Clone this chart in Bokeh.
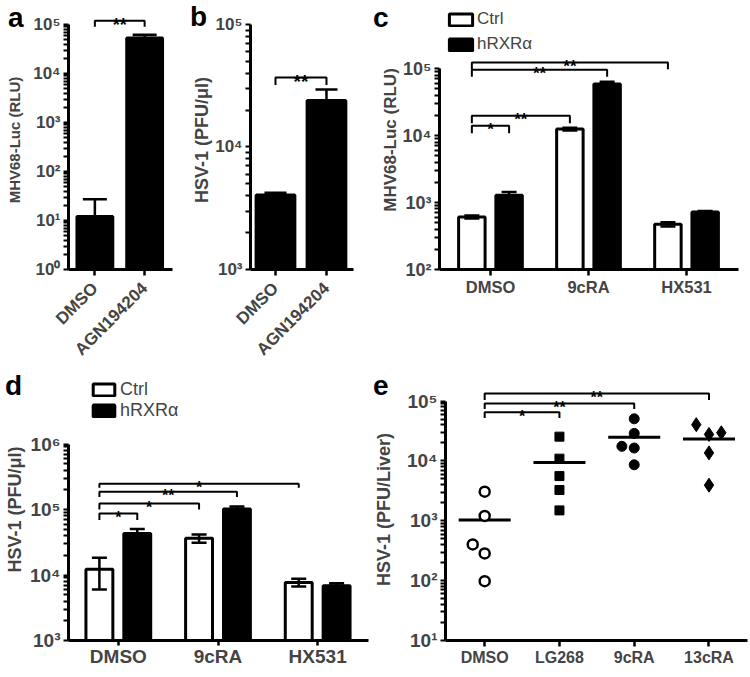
import math
from bokeh.plotting import figure
from bokeh.models import (Range1d, FixedTicker, CustomJSTickFormatter, Whisker, TeeHead,
                          ColumnDataSource, Legend, LegendItem, Div)
from bokeh.layouts import row, column
from bokeh.embed import file_html
from bokeh.resources import INLINE
from bokeh.core.properties import value

FONT = "Liberation Sans"

# ---------------- data ----------------
a_cats = ["DMSO", "AGN194204"]
a_mean = [12, 53000]
a_sem = [15, 9000]
a_sig_from = ["DMSO"]
a_sig_to = ["AGN194204"]
a_sig_y = [119000]
a_sig_foot = [89600]
a_sig_text = ["**"]

b_cats = ["DMSO", "AGN194204"]
b_mean = [4050, 24000]
b_sem = [180, 5400]
b_sig_from = ["DMSO"]
b_sig_to = ["AGN194204"]
b_sig_y = [36900]
b_sig_foot = [32000]
b_sig_text = ["**"]

series = ["Ctrl", "hRXR\u03b1"]

c_cats = ["DMSO", "9cRA", "HX531"]
c_ctrl = [608, 12500, 473]
c_ctrl_sem = [30, 600, 35]
c_rxr = [1280, 58500, 724]
c_rxr_sem = [150, 5000, 23]
c_sig_from = [("DMSO", "Ctrl")] * 4
c_sig_to = [("DMSO", "hRXR\u03b1"), ("9cRA", "Ctrl"), ("9cRA", "hRXR\u03b1"), ("HX531", "Ctrl")]
c_sig_y = [14000, 19800, 95500, 123000]
c_sig_foot = [10800, 15200, 75100, 97800]
c_sig_text = ["*", "**", "**", "**"]

d_cats = ["DMSO", "9cRA", "HX531"]
d_ctrl = [12200, 36300, 7700]
d_ctrl_sem = [6200, 5300, 1050]
d_rxr = [43200, 102000, 6840]
d_rxr_sem = [7000, 9000, 660]
d_sig_from = [("DMSO", "Ctrl")] * 4
d_sig_to = [("DMSO", "hRXR\u03b1"), ("9cRA", "Ctrl"), ("9cRA", "hRXR\u03b1"), ("HX531", "Ctrl")]
d_sig_y = [87000, 124000, 186000, 248000]
d_sig_foot = [69000, 100000, 155000, 214000]
d_sig_text = ["*", "*", "**", "*"]

e_cats = ["DMSO", "LG268", "9cRA", "13cRA"]
e_dmso = [3060, 1205, 403, 285, 98]
e_lg268 = [25400, 10900, 5570, 3260, 1490]
e_9cra = [50400, 28800, 17500, 16400, 8600]
e_13cra = [40300, 27700, 29500, 13600, 3930]
e_mean = [1025, 9400, 24800, 23300]
# horizontal spread of coincident points (column scatter)
e_dmso_dx = [0, 0, -0.16, 0, 0]
e_lg268_dx = [0, 0, 0, 0, 0]
e_9cra_dx = [0, 0, -0.165, 0, 0]
e_13cra_dx = [-0.17, 0, 0.165, 0, 0]
e_sig_from = ["DMSO"] * 3
e_sig_to = ["LG268", "9cRA", "13cRA"]
e_sig_y = [64800, 90600, 133000]
e_sig_foot = [51800, 73300, 104000]
e_sig_text = ["*", "**", "**"]

panel_letters = ["a", "b", "c", "d", "e"]

# ---------------- helpers ----------------
SUP_CODE = """
const s = {"0":"\u2070","1":"\u00b9","2":"\u00b2","3":"\u00b3","4":"\u2074","5":"\u2075","6":"\u2076","7":"\u2077","8":"\u2078","9":"\u2079","-":"\u207b"};
const lg = Math.log10(tick);
const e = Math.round(lg);
if (Math.abs(lg - e) > 1e-6) return "";
return "10" + String(e).split("").map(c => s[c]).join("");
"""


def make_fig(W, H, bl, br, bt, bb, xr, yr):
    p = figure(width=W, height=H, min_border_left=bl, min_border_right=br,
               min_border_top=bt, min_border_bottom=bb,
               x_range=Range1d(*xr), y_range=Range1d(*yr), y_axis_type="log",
               output_backend="svg", toolbar_location=None)
    p.outline_line_color = None
    p.grid.visible = False
    p.background_fill_color = "white"
    p.border_fill_color = "white"
    return p


def style_axes(p, cats, lo, hi, ylabel, ytick_size, xtick_size, ylabel_size,
               ylabel_standoff, rotate=False, xtick_out=6, xstandoff=2):
    ya = p.yaxis[0]
    # decade ticks (labelled) plus the 2..9 intermediate ticks of a log ruler (unlabelled)
    ya.ticker = FixedTicker(ticks=[m * 10.0 ** k for k in range(lo, hi) for m in range(1, 10)]
                            + [10.0 ** hi])
    ya.formatter = CustomJSTickFormatter(code=SUP_CODE)
    ya.bounds = (10.0 ** lo, 10.0 ** hi)
    ya.axis_line_width = 3
    ya.major_tick_line_width = 2
    ya.major_tick_out = 5
    ya.major_tick_in = 0
    ya.minor_tick_line_color = None
    ya.major_label_text_font = FONT
    ya.major_label_text_font_style = "bold"
    ya.major_label_text_font_size = ytick_size
    ya.major_label_standoff = 3
    ya.axis_label = ylabel
    ya.axis_label_text_font = FONT
    ya.axis_label_text_font_style = "bold"
    ya.axis_label_text_font_size = ylabel_size
    ya.axis_label_standoff = ylabel_standoff

    xa = p.xaxis[0]
    xa.ticker = FixedTicker(ticks=list(range(len(cats))))
    xa.formatter = CustomJSTickFormatter(args=dict(names=cats),
                                         code="return names[Math.round(tick)];")
    xa.axis_line_width = 3
    xa.major_tick_line_width = 2.5
    xa.major_tick_out = xtick_out
    xa.major_tick_in = 0
    xa.minor_tick_line_color = None
    xa.major_label_text_font = FONT
    xa.major_label_text_font_style = "bold"
    xa.major_label_text_font_size = xtick_size
    xa.major_label_standoff = xstandoff
    xa.axis_label_standoff = 0
    if rotate:
        xa.major_label_orientation = math.pi / 4


def add_whisker(p, xs, means, sems, two_sided, head):
    lower = [m - s for m, s in zip(means, sems)] if two_sided else list(means)
    upper = [m + s for m, s in zip(means, sems)]
    src = ColumnDataSource(dict(x=xs, upper=upper, lower=lower))
    w = Whisker(source=src, base="x", upper="upper", lower="lower", dimension="height",
                line_width=2.5, line_color="black", level="annotation",
                upper_head=TeeHead(size=head, line_width=2.5, line_color="black"),
                lower_head=TeeHead(size=head, line_width=2.5, line_color="black"))
    p.add_layout(w)


def add_sig(p, x0s, x1s, ys, feet, texts, size):
    xs = [[a, a, b, b] for a, b in zip(x0s, x1s)]
    yy = [[f, y, y, f] for y, f in zip(ys, feet)]
    p.multi_line(xs=xs, ys=yy, line_color="black", line_width=2)
    p.text(x=[(a + b) / 2 for a, b in zip(x0s, x1s)], y=ys, text=texts,
           text_align="center", text_baseline="alphabetic", y_offset=4,
           text_font=value(FONT), text_font_style="bold", text_font_size=size,
           text_color="black")


def letter_div(txt, left, top):
    return Div(text=txt, margin=0,
               styles={"position": "absolute", "left": f"{left}px", "top": f"{top}px",
                       "z-index": "10", "font-family": FONT, "font-size": "28px",
                       "font-weight": "bold", "line-height": "1", "color": "black",
                       "pointer-events": "none"})


# ---------------- panel a ----------------
TOP_H = 368
pa = make_fig(188, TOP_H, 68, 16, 10, 99, (-0.53, 1.56), (1, 10 ** 5.286))
style_axes(pa, a_cats, 0, 5, "MHV68-Luc (RLU)", "17px", "17px", "15px", 7, rotate=True,
           xstandoff=10)
ax = list(range(len(a_cats)))
pa.vbar(x=ax, top=a_mean, bottom=1, width=0.72, fill_color="black", line_color="black", line_width=3)
add_whisker(pa, ax, a_mean, a_sem, False, 24)
add_sig(pa, [a_cats.index(c) for c in a_sig_from], [a_cats.index(c) for c in a_sig_to],
        a_sig_y, a_sig_foot, a_sig_text, "18px")

# ---------------- panel b ----------------
pb = make_fig(182, TOP_H, 62, 17, 10, 99, (-0.49, 1.53), (1000, 10 ** 5.114))
style_axes(pb, b_cats, 3, 5, "HSV-1 (PFU/\u03bcl)", "17px", "17px", "18px", 0, rotate=True,
           xstandoff=10)
bx = list(range(len(b_cats)))
pb.vbar(x=bx, top=b_mean, bottom=1000, width=0.76, fill_color="black", line_color="black", line_width=3)
add_whisker(pb, bx, b_mean, b_sem, False, 22)
add_sig(pb, [b_cats.index(c) for c in b_sig_from], [b_cats.index(c) for c in b_sig_to],
        b_sig_y, b_sig_foot, b_sig_text, "19px")

# ---------------- grouped bar helper ----------------
OFF = 0.19
BW = 0.27


def grouped(p, cats, ctrl, ctrl_sem, rxr, rxr_sem, base, sig_from, sig_to, sig_y, sig_foot,
            sig_text, star_size, leg_loc, leg_font, leg_gw, leg_spacing, leg_standoff):
    gx = list(range(len(cats)))
    r1 = p.vbar(x=[g - OFF for g in gx], top=ctrl, bottom=base, width=BW,
                fill_color="white", line_color="black", line_width=3)
    r2 = p.vbar(x=[g + OFF for g in gx], top=rxr, bottom=base, width=BW,
                fill_color="black", line_color="black", line_width=3)
    add_whisker(p, [g - OFF for g in gx], ctrl, ctrl_sem, True, 15)
    add_whisker(p, [g + OFF for g in gx], rxr, rxr_sem, False, 15)

    def pos(ref):
        cat, s = ref
        return cats.index(cat) + (-OFF if s == "Ctrl" else OFF)

    add_sig(p, [pos(r) for r in sig_from], [pos(r) for r in sig_to], sig_y, sig_foot,
            sig_text, star_size)
    leg = Legend(items=[LegendItem(label=series[0], renderers=[r1]),
                        LegendItem(label=series[1], renderers=[r2])],
                 location=leg_loc, orientation="vertical", padding=0, margin=0,
                 spacing=leg_spacing, glyph_width=leg_gw, glyph_height=15,
                 label_standoff=leg_standoff, label_height=10,
                 label_text_font=FONT, label_text_font_size=leg_font,
                 border_line_color=None, background_fill_alpha=0)
    p.add_layout(leg)


# ---------------- panel c ----------------
pc = make_fig(380, TOP_H, 69, 12, 10, 99, (-0.52, 2.53), (100, 10 ** 5.866))
style_axes(pc, c_cats, 2, 5, "MHV68-Luc (RLU)", "18px", "16.5px", "17px", 0)
grouped(pc, c_cats, c_ctrl, c_ctrl_sem, c_rxr, c_rxr_sem, 100, c_sig_from, c_sig_to,
        c_sig_y, c_sig_foot, c_sig_text, "17px", (7, 215), "17px", 29, 5, 2)

# ---------------- panel d ----------------
BOT_H = 309
pd_ = make_fig(370, BOT_H, 68, 2, 10, 32, (-0.50, 2.51), (1000, 1e7))
style_axes(pd_, d_cats, 3, 6, "HSV-1 (PFU/\u03bcl)", "19px", "19px", "18px", 2,
           xtick_out=5, xstandoff=0)
grouped(pd_, d_cats, d_ctrl, d_ctrl_sem, d_rxr, d_rxr_sem, 1000, d_sig_from, d_sig_to,
        d_sig_y, d_sig_foot, d_sig_text, "16px", (22, 219), "18px", 27, 0, 3)

# ---------------- panel e ----------------
pe = make_fig(380, BOT_H, 73, 3, 4, 37, (-0.524, 3.515), (10, 10 ** 5.376))
style_axes(pe, e_cats, 1, 5, "HSV-1 (PFU/Liver)", "19px", "16px", "18px", 10)
pe.scatter(x=list(range(len(e_cats))), y=e_mean, marker="dash", size=52,
           line_width=3, line_color="black")
pe.scatter(x=[0 + d for d in e_dmso_dx], y=e_dmso, marker="circle", size=10,
           fill_color="white", line_color="black", line_width=2.5)
pe.scatter(x=[1 + d for d in e_lg268_dx], y=e_lg268, marker="square", size=9,
           fill_color="black", line_color="black", line_width=1)
pe.scatter(x=[2 + d for d in e_9cra_dx], y=e_9cra, marker="circle", size=10,
           fill_color="black", line_color="black", line_width=1)
pe.scatter(x=[3 + d for d in e_13cra_dx], y=e_13cra, marker="diamond", size=14,
           fill_color="black", line_color="black", line_width=1)
add_sig(pe, [e_cats.index(c) for c in e_sig_from], [e_cats.index(c) for c in e_sig_to],
        e_sig_y, e_sig_foot, e_sig_text, "16px")

# panel letters (page positions)
letter_pos = [(8, 4), (190, 3), (373, 4), (5, 372), (373, 372)]
letters = [letter_div(t, l, tp) for t, (l, tp) in zip(panel_letters, letter_pos)]

layout = column(row(pa, pb, pc, spacing=0), row(pd_, pe, spacing=0), *letters, spacing=0)

open("out.html", "w").write(file_html(layout, INLINE))
